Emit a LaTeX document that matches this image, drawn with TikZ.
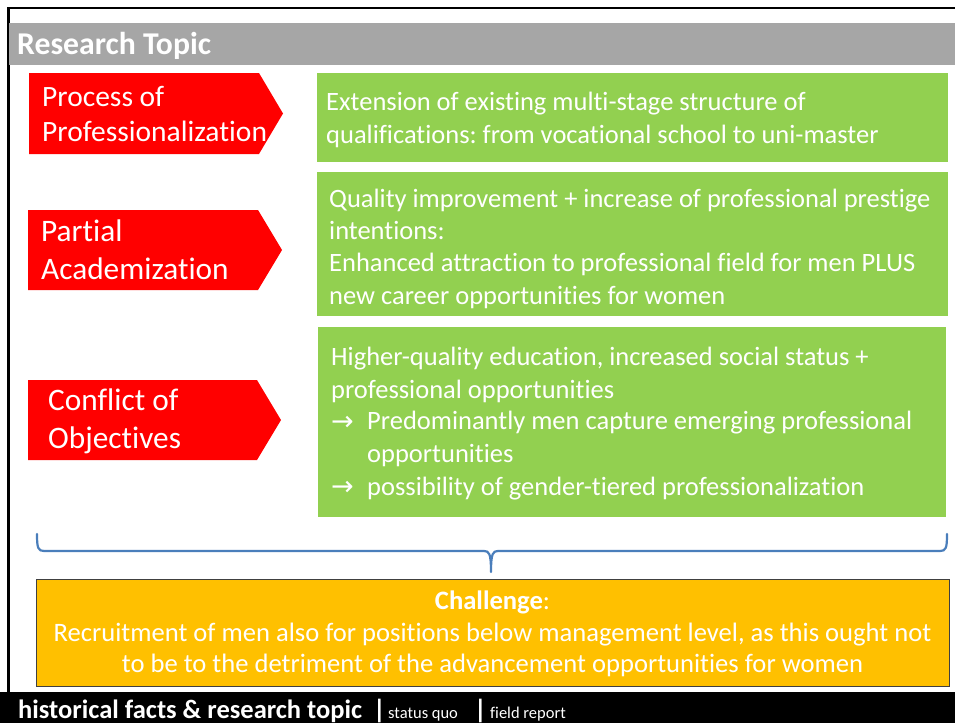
\documentclass[tikz,border=0pt]{standalone}
\usepackage{fontspec}
\setmainfont{Carlito}[Ligatures={NoCommon,NoContextual}]
\newfontfamily\arrowfont{DejaVu Sans}
\frenchspacing
\definecolor{pgreen}{HTML}{92D050}
\definecolor{pgray}{HTML}{A6A6A6}
\definecolor{porange}{HTML}{FFC000}
\definecolor{pblue}{HTML}{4A7EBB}
\definecolor{pred}{HTML}{FF0000}
\begin{document}
\frenchspacing
\begin{tikzpicture}[x=1pt,y=-1pt,
  redshape/.style={fill=pred},
  redtxt/.style={text=white, anchor=base west, inner sep=0pt, align=left, font=\fontsize{31.3}{37.8}\selectfont},
  greenbox/.style={fill=pgreen, draw=none, anchor=north west, inner sep=0pt, outer sep=0pt},
  greentxt/.style={text=white, anchor=base west, inner sep=0pt, align=left, font=\fontsize{26.5}{32.3}\selectfont},
  arrowtxt/.style={text=white, anchor=base west, inner sep=0pt, font=\arrowfont\fontsize{27}{28}\selectfont},
  orangebox/.style={fill=porange, draw=black!75, line width=0.9pt, anchor=north west, inner sep=0pt},
  orangetxt/.style={text=white, anchor=base, inner sep=0pt, align=center, font=\fontsize{26.6}{31.6}\selectfont},
  bracestyle/.style={draw=pblue, line width=2.2pt, line cap=round, line join=round},
  foottxt/.style={text=white, anchor=base west, inner sep=0pt},
  ]
\useasboundingbox (0,0) rectangle (955,723);
\fill[white] (0,0) rectangle (955,723);
% frame
\draw[black, line width=2.5pt] (8.5,692) -- (8.5,8) -- (955,8);
% title bar
\node[fill=pgray, anchor=north west, inner sep=0pt, minimum width=946pt, minimum height=42pt] (bar) at (9,23) {};
\node[text=white, anchor=base west, inner sep=0pt, font=\bfseries\fontsize{31.7}{32}\selectfont] (title) at (17,54.5) {Research Topic};

% red arrows
\fill[redshape] (29,73) -- (259,73) -- (283,113.5) -- (259,154) -- (29,154) -- cycle;
\node[redtxt, font=\fontsize{29.5}{35.6}\selectfont] (r1) at (42,141.7) {Process of\\Professionalization};
\fill[redshape] (28,210) -- (258,210) -- (282,250) -- (258,290) -- (28,290) -- cycle;
\node[redtxt] (r2) at (41,279.3) {Partial\\Academization};
\fill[redshape] (28,380) -- (257,380) -- (281,420) -- (257,460) -- (28,460) -- cycle;
\node[redtxt] (r3) at (48,448) {Conflict of\\Objectives};

% green boxes
\node[greenbox, minimum width=631pt, minimum height=89pt] (g1) at (317,73) {};
\node[greentxt] (t1) at (326,143) {Extension of existing multi-stage structure of\\qualifications: from vocational school to uni-master};
\node[greenbox, minimum width=631pt, minimum height=144pt] (g2) at (317,172) {};
\node[greentxt] (t2) at (329,304) {Quality improvement + increase of professional prestige\\intentions:\\Enhanced attraction to professional field for men PLUS\\new career opportunities for women};
\node[greenbox, minimum width=628pt, minimum height=190pt] (g3) at (318,327) {};
\node[greentxt] (t3) at (331,398) {Higher-quality education, increased social status +\\professional opportunities};
\node[arrowtxt] (a1) at (331,430) {→};
\node[greentxt] (t4) at (367,462) {Predominantly men capture emerging professional\\opportunities};
\node[arrowtxt] (a2) at (331,495) {→};
\node[greentxt] (t5) at (367,495) {possibility of gender-tiered professionalization};

% brace
\coordinate (bl) at (37,534);
\coordinate (bm) at (491,572);
\coordinate (br) at (947,534);
\draw[bracestyle] (bl) .. controls (37,548) and (38,551) .. (44,551) -- (484,551)
  .. controls (489,551) and (491,553) .. (bm)
  .. controls (491,553) and (493,551) .. (498,551) -- (940,551)
  .. controls (946,551) and (947,548) .. (br);

% challenge box
\node[orangebox, minimum width=913pt, minimum height=107pt] (ch) at (36,579) {};
\node[orangetxt] (c1) at (492.5,609) {\textbf{Challenge}:};
\node[orangetxt] (c2) at (492.5,641) {Recruitment of men also for positions below management level, as this ought not};
\node[orangetxt] (c3) at (492.5,672.5) {to be to the detriment of the advancement opportunities for women};

% footer
\node[fill=black, anchor=north west, inner sep=0pt, minimum width=955pt, minimum height=31pt] (footer) at (0,692) {};
\node[foottxt, font=\bfseries\fontsize{26.5}{27}\selectfont] (f1) at (18,718) {historical facts \& research topic};
\node[foottxt, font=\bfseries\fontsize{26.5}{27}\selectfont] (f2) at (373,718) {|};
\node[foottxt, font=\fontsize{16.5}{18}\selectfont] (f3) at (388,718) {status quo};
\node[foottxt, font=\bfseries\fontsize{26.5}{27}\selectfont] (f4) at (474,718) {|};
\node[foottxt, font=\fontsize{16.5}{18}\selectfont] (f5) at (490,718) {field report};
\end{tikzpicture}
\end{document}
